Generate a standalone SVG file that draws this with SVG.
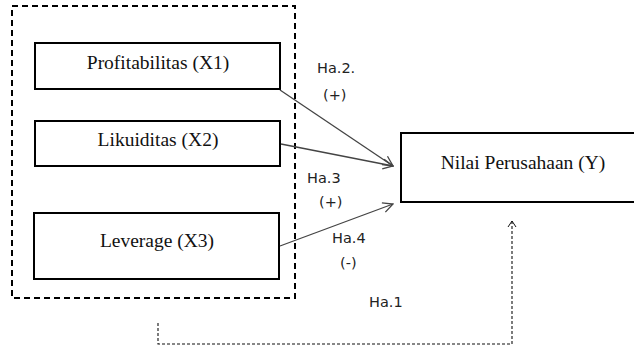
<svg xmlns="http://www.w3.org/2000/svg" width="634" height="349" viewBox="0 0 634 349">
<defs>
<style>
.box{fill:#fff;stroke:#000;stroke-width:2}
.node-text{font-family:"Liberation Serif",serif;font-size:19.5px;fill:#111;text-anchor:middle}
.lbl{font-family:"DejaVu Sans",sans-serif;font-size:14.5px;fill:#222}
.arrow{stroke:#444;stroke-width:1.3;fill:none;marker-end:url(#open)}
</style>
<marker id="open" viewBox="0 0 12 12" refX="11" refY="6" markerWidth="12" markerHeight="12" markerUnits="userSpaceOnUse" orient="auto">
<path d="M1,1 L11,6 L1,11" fill="none" stroke="#444" stroke-width="1.3"/>
</marker>
<marker id="open2" viewBox="0 0 12 12" refX="6" refY="1" markerWidth="12" markerHeight="12" markerUnits="userSpaceOnUse" orient="0">
<path d="M2,7 L6,1 L10,7" fill="none" stroke="#111" stroke-width="1"/>
</marker>
</defs>
<rect width="634" height="349" fill="#fff"/>
<g id="group-x">
<rect x="12" y="6" width="283" height="292" fill="none" stroke="#000" stroke-width="2" stroke-dasharray="6,4"/>
</g>
<g id="x1">
<rect class="box" x="35" y="43" width="245" height="46"/>
<text class="node-text" x="158" y="69">Profitabilitas (X1)</text>
</g>
<g id="x2">
<rect class="box" x="35" y="121" width="245" height="45"/>
<text class="node-text" x="158" y="146">Likuiditas (X2)</text>
</g>
<g id="x3">
<rect class="box" x="34" y="213" width="245" height="66"/>
<text class="node-text" x="157" y="247">Leverage (X3)</text>
</g>
<g id="y">
<rect class="box" x="401" y="133" width="245" height="69"/>
<text class="node-text" x="523" y="169">Nilai Perusahaan (Y)</text>
</g>
<g id="connectors">
<line class="arrow" x1="280" y1="90" x2="393" y2="166"/>
<line class="arrow" x1="281" y1="144" x2="393" y2="166"/>
<line class="arrow" x1="280" y1="246" x2="393" y2="204"/>
<polyline points="158,323 158,344 512,344 512,221" fill="none" stroke="#111" stroke-width="1.1" stroke-dasharray="3,2" marker-end="url(#open2)"/>
</g>
<g id="labels">
<text class="lbl" x="317" y="73">Ha.2.</text>
<text class="lbl" x="323" y="100">(+)</text>
<text class="lbl" x="307" y="183">Ha.3</text>
<text class="lbl" x="319" y="207">(+)</text>
<text class="lbl" x="332" y="243">Ha.4</text>
<text class="lbl" x="340" y="268">(-)</text>
<text class="lbl" x="369" y="307">Ha.1</text>
</g>
</svg>
